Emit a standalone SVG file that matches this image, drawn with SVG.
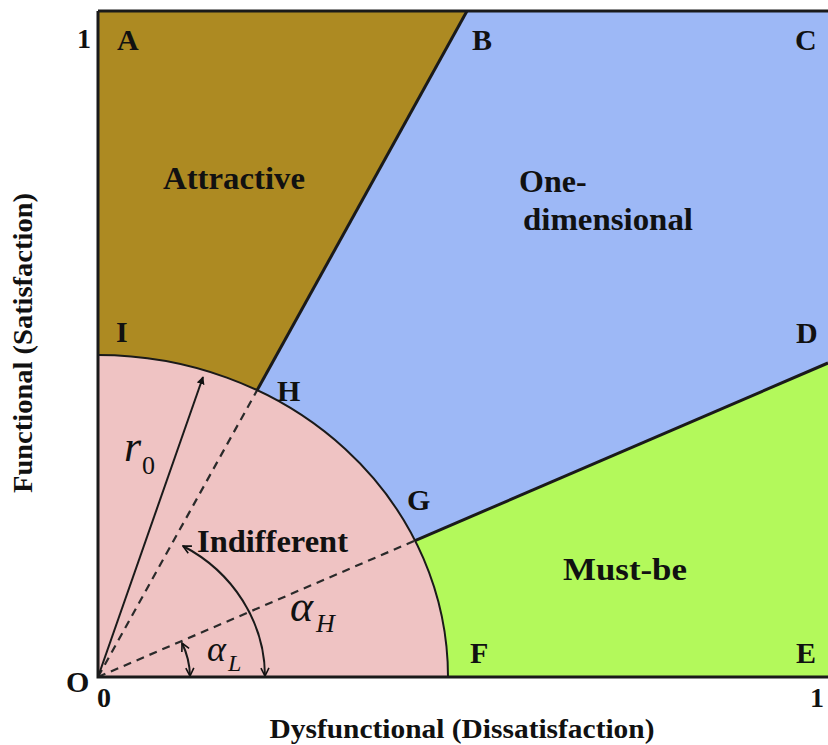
<svg xmlns="http://www.w3.org/2000/svg" width="828" height="745" viewBox="0 0 828 745">
<defs>
<style>
.lbl{font-family:"Liberation Serif","Times New Roman",serif;font-weight:bold;fill:#111;}
.pt{font-size:30px;}
.reg{font-size:32px;}
.ax{font-size:28px;}
.math{font-family:"Liberation Serif","Times New Roman",serif;font-style:italic;fill:#111;}
.edge{stroke:#1a1a1a;stroke-width:3;fill:none;}
.thin{stroke:#1a1a1a;stroke-width:2;fill:none;}
.dash{stroke:#2a2a2a;stroke-width:2.2;fill:none;stroke-dasharray:8 6;}
</style>
<marker id="tri" viewBox="0 0 10 10" refX="9" refY="5" markerWidth="8" markerHeight="8" markerUnits="userSpaceOnUse" orient="auto">
<path d="M0,0 L10,5 L0,10 Z" fill="#111"/>
</marker>
<marker id="vee" viewBox="0 0 10 10" refX="9" refY="5" markerWidth="10" markerHeight="10" markerUnits="userSpaceOnUse" orient="auto-start-reverse">
<path d="M1,1 L9,5 L1,9" fill="none" stroke="#111" stroke-width="1.6"/>
</marker>
</defs>
<rect width="828" height="745" fill="#ffffff"/>
<g id="one-dimensional">
<rect x="98" y="11" width="730" height="666" fill="#9db8f6"/>
<text class="lbl reg" x="519" y="192">One-</text>
<text class="lbl reg" x="523" y="230" textLength="170" lengthAdjust="spacingAndGlyphs">dimensional</text>
</g>
<g id="attractive">
<polygon points="98,11 467,11 98,677" fill="#ad8a22"/>
<text class="lbl reg" x="163" y="189" textLength="142" lengthAdjust="spacingAndGlyphs">Attractive</text>
</g>
<g id="must-be">
<polygon points="98,677 828,363 828,677" fill="#b3f95b"/>
<text class="lbl reg" x="563" y="580" textLength="124" lengthAdjust="spacingAndGlyphs">Must-be</text>
</g>
<g id="indifferent">
<path d="M98,677 L98,355 A350,322 0 0 1 448,677 Z" fill="#efc3c3"/>
<text class="lbl reg" x="197" y="552" textLength="151" lengthAdjust="spacingAndGlyphs">Indifferent</text>
</g>
<g id="connectors">
<path class="edge" d="M467,11 L257.1,390.2"/>
<path class="edge" d="M415.1,540.6 L828,363"/>
<path class="dash" d="M98,677 L257.1,390.2"/>
<path class="dash" d="M98,677 L415.1,540.6"/>
<path class="thin" d="M98,355 A350,322 0 0 1 448,677"/>
<path class="thin" d="M98,677 L203,377" marker-end="url(#tri)" stroke-width="1.8"/>
<path class="thin" d="M265,676 A160,150 0 0 0 183,546" stroke-width="1.8" marker-start="url(#vee)" marker-end="url(#vee)"/>
<path class="thin" d="M190,676 A92,85 0 0 0 182,643" stroke-width="1.6" marker-start="url(#vee)" marker-end="url(#vee)"/>
</g>
<g id="frame">
<path class="edge" d="M98,11 L98,677 L828,677"/>
<path class="edge" d="M98,11 L828,11"/>
</g>
<g id="point-labels">
<text class="lbl pt" x="117" y="50">A</text>
<text class="lbl pt" x="472" y="50">B</text>
<text class="lbl pt" x="795" y="50">C</text>
<text class="lbl pt" x="796" y="343">D</text>
<text class="lbl pt" x="796" y="663">E</text>
<text class="lbl pt" x="470" y="663">F</text>
<text class="lbl pt" x="407" y="510">G</text>
<text class="lbl pt" x="277" y="401">H</text>
<text class="lbl pt" x="116" y="342">I</text>
<text class="lbl pt" x="66" y="692">O</text>
</g>
<g id="math-labels">
<text class="math" x="124" y="461" font-size="44">r</text>
<text x="142" y="474" font-family="'Liberation Serif','Times New Roman',serif" font-size="26" fill="#111">0</text>
<text class="math" x="290" y="621" font-size="44">α</text>
<text class="math" x="316" y="632" font-size="26">H</text>
<text class="math" x="207" y="661" font-size="36">α</text>
<text class="math" x="228" y="671" font-size="24">L</text>
</g>
<g id="axes">
<text class="lbl ax" x="77" y="48" font-size="22">1</text>
<text class="lbl ax" x="97" y="707" font-size="22">0</text>
<text class="lbl ax" x="810" y="707" font-size="22">1</text>
<text class="lbl ax" x="462" y="738" text-anchor="middle" textLength="385" lengthAdjust="spacingAndGlyphs">Dysfunctional (Dissatisfaction)</text>
<text class="lbl ax" transform="translate(32,343) rotate(-90)" text-anchor="middle" textLength="300" lengthAdjust="spacingAndGlyphs">Functional (Satisfaction)</text>
</g>
</svg>
